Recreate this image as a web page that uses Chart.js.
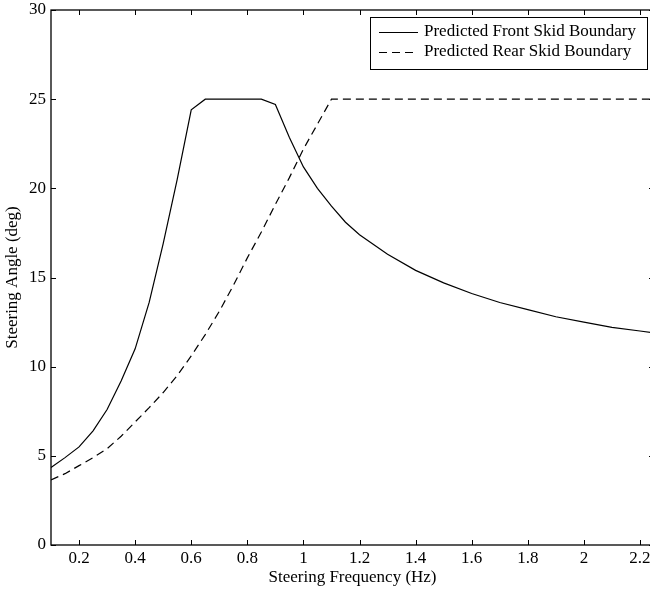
<!DOCTYPE html>
<html lang="en">
<head>
    <meta charset="UTF-8">
    <title>Skid Boundary</title>
    <script src="https://cdn.jsdelivr.net/npm/chart.js"></script>
    <style>
        body {
            margin: 0;
            padding: 0;
            overflow: hidden;
            background: #fff;
        }
        #wrap {
            width: 660px;
            height: 589px;
        }
    </style>
</head>
<body>
    <div id="wrap"><canvas id="skidChart"></canvas></div>

    <script>
        // steering frequency (Hz) and predicted boundaries (deg)
        const frontFreq = [0.1, 0.15, 0.2, 0.25, 0.3, 0.35, 0.4, 0.45, 0.5, 0.55, 0.6, 0.65, 0.7, 0.75, 0.8, 0.85, 0.9, 0.95, 1.0, 1.05, 1.1, 1.15, 1.2, 1.3, 1.4, 1.5, 1.6, 1.7, 1.8, 1.9, 2.0, 2.1, 2.2, 2.25];
        const frontAngle = [4.35, 4.9, 5.5, 6.4, 7.6, 9.2, 11.0, 13.6, 16.9, 20.5, 24.4, 25, 25, 25, 25, 25, 24.7, 22.85, 21.2, 20.0, 19.0, 18.1, 17.4, 16.3, 15.4, 14.7, 14.1, 13.6, 13.2, 12.8, 12.5, 12.2, 12.0, 11.9];

        const rearFreq = [0.1, 0.15, 0.2, 0.25, 0.3, 0.35, 0.4, 0.45, 0.5, 0.55, 0.6, 0.65, 0.7, 0.75, 0.8, 0.85, 0.9, 0.95, 1.0, 1.05, 1.1, 2.25];
        const rearAngle = [3.65, 4.0, 4.45, 4.9, 5.4, 6.1, 6.9, 7.7, 8.55, 9.5, 10.6, 11.8, 13.1, 14.55, 16.1, 17.55, 19.1, 20.6, 22.2, 23.6, 25, 25];

        const xTicks = [0.2, 0.4, 0.6, 0.8, 1.0, 1.2, 1.4, 1.6, 1.8, 2.0, 2.2];
        const yTicks = [0, 5, 10, 15, 20, 25, 30];

        const font = { family: "'Liberation Serif', 'Times New Roman', serif", size: 17 };

        function toPoints(xs, ys) {
            return xs.map((x, i) => ({ x: x, y: ys[i] }));
        }

        // box round the plot with inward ticks on all four sides, plus the legend
        const frame = {
            id: 'frame',
            afterDraw(chart) {
                const ctx = chart.ctx;
                const a = chart.chartArea;
                const xs = chart.scales.x, ys = chart.scales.y;
                const len = 5;
                ctx.save();
                ctx.strokeStyle = '#000';
                ctx.lineWidth = 1.3;
                ctx.strokeRect(a.left, a.top, a.right - a.left, a.bottom - a.top);
                ctx.lineWidth = 1;
                ctx.beginPath();
                xTicks.forEach(v => {
                    const px = Math.round(xs.getPixelForValue(v)) + 0.5;
                    ctx.moveTo(px, a.bottom); ctx.lineTo(px, a.bottom - len);
                    ctx.moveTo(px, a.top); ctx.lineTo(px, a.top + len);
                });
                yTicks.forEach(v => {
                    const py = Math.round(ys.getPixelForValue(v)) + 0.5;
                    ctx.moveTo(a.left, py); ctx.lineTo(a.left + len, py);
                    ctx.moveTo(a.right, py); ctx.lineTo(a.right - len, py);
                });
                ctx.stroke();

                // legend
                const boxL = 370, boxT = 17, boxR = 647, boxB = 69;
                ctx.fillStyle = '#fff';
                ctx.fillRect(boxL, boxT, boxR - boxL, boxB - boxT);
                ctx.lineWidth = 1;
                ctx.strokeRect(boxL + 0.5, boxT + 0.5, boxR - boxL, boxB - boxT);
                ctx.font = font.size + 'px ' + font.family;
                ctx.textBaseline = 'middle';
                ctx.fillStyle = '#000';
                chart.data.datasets.forEach((ds, i) => {
                    const y = boxT + 15 + i * 20;
                    ctx.setLineDash(ds.borderDash || []);
                    ctx.lineWidth = ds.borderWidth;
                    ctx.beginPath();
                    ctx.moveTo(379, y + 0.5);
                    ctx.lineTo(418, y + 0.5);
                    ctx.stroke();
                    ctx.setLineDash([]);
                    ctx.fillText(ds.label, 424, y);
                });
                ctx.restore();
            }
        };

        const ctx = document.getElementById('skidChart').getContext('2d');
        new Chart(ctx, {
            type: 'line',
            data: {
                datasets: [
                    {
                        label: 'Predicted Front Skid Boundary',
                        data: toPoints(frontFreq, frontAngle),
                        borderColor: '#000',
                        borderWidth: 1.2,
                        pointRadius: 0,
                        tension: 0,
                        fill: false
                    },
                    {
                        label: 'Predicted Rear Skid Boundary',
                        data: toPoints(rearFreq, rearAngle),
                        borderColor: '#000',
                        borderWidth: 1.2,
                        borderDash: [8, 5],
                        pointRadius: 0,
                        tension: 0,
                        fill: false
                    }
                ]
            },
            options: {
                responsive: true,
                maintainAspectRatio: false,
                animation: false,
                layout: { padding: { top: 0, right: 6, left: 0, bottom: 0 } },
                plugins: {
                    legend: { display: false },
                    tooltip: { enabled: false }
                },
                scales: {
                    x: {
                        type: 'linear',
                        min: 0.1,
                        max: 2.25,
                        afterBuildTicks: s => { s.ticks = xTicks.map(v => ({ value: v })); },
                        afterFit: s => { s.height = 44; s.paddingLeft = 0; s.paddingRight = 0; },
                        grid: { display: false, drawTicks: false },
                        border: { display: false },
                        ticks: {
                            color: '#000',
                            font: font,
                            padding: 3,
                            maxRotation: 0,
                            callback: v => String(parseFloat(v.toFixed(1)))
                        },
                        title: {
                            display: true,
                            text: 'Steering Frequency (Hz)',
                            color: '#000',
                            font: font,
                            padding: { top: 0, bottom: 1 }
                        }
                    },
                    y: {
                        min: 0,
                        max: 30,
                        afterBuildTicks: s => { s.ticks = yTicks.map(v => ({ value: v })); },
                        afterFit: s => { s.width = 51; s.paddingTop = 10; s.paddingBottom = 0; },
                        grid: { display: false, drawTicks: false },
                        border: { display: false },
                        ticks: {
                            color: '#000',
                            font: font,
                            padding: 5
                        },
                        title: {
                            display: true,
                            text: 'Steering Angle (deg)',
                            color: '#000',
                            font: font,
                            padding: { top: 2, bottom: 0 }
                        }
                    }
                }
            },
            plugins: [frame]
        });
    </script>
</body>
</html>
